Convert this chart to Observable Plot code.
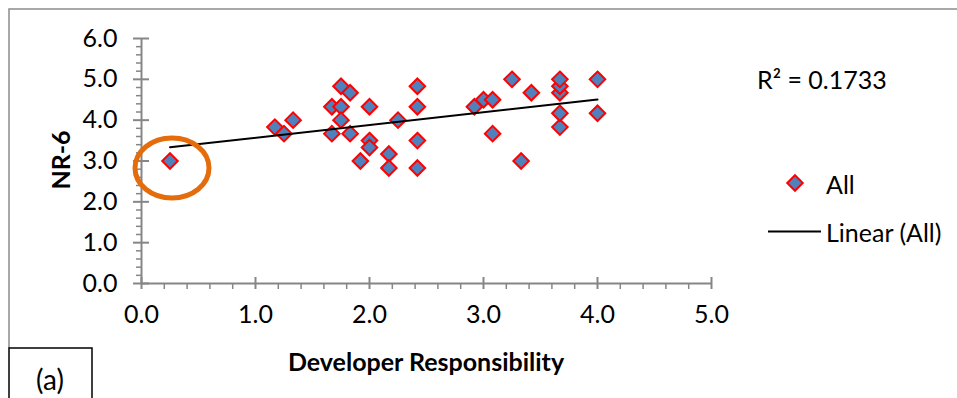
<!DOCTYPE html>
<html>
<head>
<meta charset="utf-8">
<script src="https://cdn.jsdelivr.net/npm/d3@7"></script>
<script src="https://cdn.jsdelivr.net/npm/@observablehq/plot@0.6"></script>
<style>
  body { margin: 0; background: #fff; }
  #chart { width: 957px; height: 398px; }
</style>
</head>
<body>
<div id="chart"></div>
<script>
// Survey responses: Developer Responsibility score vs NR-6 score
const developerResponsibility = [
  0.25, 1.17, 1.25, 1.33, 1.67, 1.67, 1.75, 1.75, 1.75, 1.83, 1.83, 1.92,
  2.0, 2.0, 2.0, 2.17, 2.17, 2.25, 2.42, 2.42, 2.42, 2.42, 2.92, 3.0,
  3.08, 3.08, 3.25, 3.33, 3.42, 3.67, 3.67, 3.67, 3.67, 3.67, 4.0, 4.0
];
const nr6 = [
  3.0, 3.83, 3.67, 4.0, 4.33, 3.67, 4.33, 4.0, 4.83, 4.67, 3.67, 3.0,
  4.33, 3.5, 3.33, 3.17, 2.83, 4.0, 4.83, 4.33, 3.5, 2.83, 4.33, 4.5,
  4.5, 3.67, 5.0, 3.0, 4.67, 3.83, 4.17, 4.67, 4.83, 5.0, 5.0, 4.17
];
const rSquaredLabel = "R² = 0.1733";
const seriesName = "All";
const trendName = "Linear (All)";
const xTitle = "Developer Responsibility";
const yTitle = "NR-6";
const panelLabel = "(a)";

const xTicks = [0, 1, 2, 3, 4, 5];
const yTicks = [0, 1, 2, 3, 4, 5, 6];
const xMinorTicks = [0.2, 0.4, 0.6, 0.8, 1.2, 1.4, 1.6, 1.8, 2.2, 2.4, 2.6, 2.8, 3.2, 3.4, 3.6, 3.8, 4.2, 4.4, 4.6, 4.8];
const yMinorTicks = [0.2, 0.4, 0.6, 0.8, 1.2, 1.4, 1.6, 1.8, 2.2, 2.4, 2.6, 2.8, 3.2, 3.4, 3.6, 3.8, 4.2, 4.4, 4.6, 4.8, 5.2, 5.4, 5.6, 5.8];

const points = developerResponsibility.map((x, i) => ({x, y: nr6[i]}));
// the low outlier gets circled
const outlier = points.reduce((a, b) => (b.x < a.x ? b : a));

const FONT = "Lato, 'Open Sans', sans-serif";
const FONT_SIZE = 25;
const AXIS = "#868686";
const MARKER_FILL = "#4F81BD";
const MARKER_STROKE = "#FF0000";
const HIGHLIGHT = "#E46C0A";

// open ellipse drawn as a dot symbol
const ellipseSymbol = {
  draw(ctx) {
    const rx = 37, ry = 30, k = 0.5523;
    ctx.moveTo(rx, 0);
    ctx.bezierCurveTo(rx, ry * k, rx * k, ry, 0, ry);
    ctx.bezierCurveTo(-rx * k, ry, -rx, ry * k, -rx, 0);
    ctx.bezierCurveTo(-rx, -ry * k, -rx * k, -ry, 0, -ry);
    ctx.bezierCurveTo(rx * k, -ry, rx, -ry * k, rx, 0);
    ctx.closePath();
  }
};

const chart = Plot.plot({
  width: 957,
  height: 398,
  marginLeft: 141,
  marginRight: 246,
  marginTop: 38,
  marginBottom: 115,
  style: {fontFamily: FONT, fontSize: `${FONT_SIZE}px`, color: "#000", background: "#fff", overflow: "visible"},
  x: {domain: [0, 5]},
  y: {domain: [0, 6]},
  marks: [
    // axis lines
    Plot.ruleY([0], {x1: 0, x2: 5, stroke: AXIS, strokeWidth: 2}),
    Plot.ruleX([0], {y1: 0, y2: 6, stroke: AXIS, strokeWidth: 2}),
    // minor ticks (outside)
    Plot.ruleX(xMinorTicks, {x: d => d, y1: 0, y2: 0, insetTop: 0, insetBottom: -6, stroke: AXIS, strokeWidth: 1.5}),
    Plot.ruleY(yMinorTicks, {y: d => d, x1: 0, x2: 0, insetLeft: -5, insetRight: 0, stroke: AXIS, strokeWidth: 1.5}),
    // major ticks (crossing)
    Plot.ruleX(xTicks, {x: d => d, y1: 0, y2: 0, insetTop: -6, insetBottom: -6, stroke: AXIS, strokeWidth: 2}),
    Plot.ruleY(yTicks, {y: d => d, x1: 0, x2: 0, insetLeft: -8, insetRight: -8, stroke: AXIS, strokeWidth: 2}),
    Plot.axisX(xTicks, {tickSize: 0, tickPadding: 22, fontSize: FONT_SIZE, tickFormat: d3.format(".1f"), label: null}),
    Plot.axisY(yTicks, {tickSize: 0, tickPadding: 24, fontSize: FONT_SIZE, tickFormat: d3.format(".1f"), label: null}),
    Plot.dot(points, {x: "x", y: "y", symbol: "diamond2", r: 7, fill: MARKER_FILL, stroke: MARKER_STROKE, strokeWidth: 2}),
    Plot.linearRegressionY(points, {x: "x", y: "y", stroke: "#000", strokeWidth: 2, ci: 0}),
    Plot.dot([outlier], {x: "x", y: "y", symbol: ellipseSymbol, fill: "none", stroke: HIGHLIGHT, strokeWidth: 5, dx: 2, dy: 7})
  ]
});

const svg = d3.select(chart);

// chart area border (top and left edges)
svg.insert("path", ":first-child")
  .attr("d", "M9,348V9H957")
  .attr("fill", "none").attr("stroke", "#8c8c8c").attr("stroke-width", 1.5);

const addText = (x, y, str, anchor = "start", size = FONT_SIZE) =>
  svg.append("text")
    .attr("x", x).attr("y", y)
    .attr("text-anchor", anchor).attr("dominant-baseline", "central")
    .attr("font-size", size).attr("fill", "#000")
    .text(str);

// axis titles
addText(426, 361, xTitle, "middle").attr("font-weight", "bold");
addText(0, 0, yTitle, "middle").attr("font-weight", "bold")
  .attr("transform", "translate(60,160) rotate(-90)");

// R² of the linear fit
addText(757, 79, rSquaredLabel);

// legend
const legendSymbol = d3.symbol(d3.symbolDiamond2, 7 * 7 * Math.PI)();
svg.append("path").attr("d", legendSymbol).attr("transform", "translate(795,183)")
  .attr("fill", MARKER_FILL).attr("stroke", MARKER_STROKE).attr("stroke-width", 2);
addText(826, 184, seriesName);
svg.append("line").attr("x1", 768).attr("x2", 821).attr("y1", 231.5).attr("y2", 231.5)
  .attr("stroke", "#000").attr("stroke-width", 2);
addText(826, 232, trendName);

// panel label box
svg.append("rect").attr("x", 9).attr("y", 348).attr("width", 83).attr("height", 60)
  .attr("fill", "#fff").attr("stroke", "#000").attr("stroke-width", 1.5);
addText(50, 379, panelLabel, "middle", 28);

document.getElementById("chart").append(chart);
</script>
</body>
</html>
